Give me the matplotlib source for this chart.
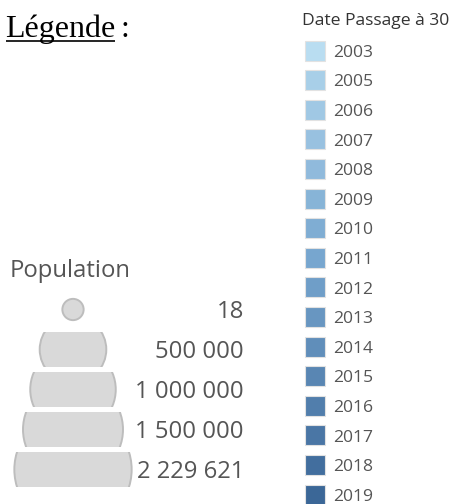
#! /usr/bin/env python3

import matplotlib
matplotlib.use('Agg')
import matplotlib.pyplot as plt
import matplotlib.patches as mpatches
from matplotlib.colors import LinearSegmentedColormap, Normalize
import numpy as np

# size legend (population)
POP_VALUES = [18, 500000, 1000000, 1500000, 2229621]
POP_LABELS = ['18', '500 000', '1 000 000', '1 500 000', '2 229 621']

# colour legend (year the population passed 30)
YEARS = [2003, 2005, 2006, 2007, 2008, 2009, 2010, 2011,
         2012, 2013, 2014, 2015, 2016, 2017, 2018, 2019]
YEAR_LABELS = [str(y) for y in YEARS]

COLOR_STOPS = ['#b9ddf1', '#77a6cf', '#3b6797']

SANS = 'Open Sans'
SERIF = 'Liberation Serif'

W, H = 456, 504


def draw_header(fig, ax):
    t = ax.text(5, 37, 'Légende', family=SERIF, fontsize=23,
                color='black', va='baseline', ha='left')
    fig.canvas.draw()
    bb = t.get_window_extent()
    (x0, _), (x1, _) = ax.transData.inverted().transform(
        [[bb.x0, bb.y0], [bb.x1, bb.y1]])
    ax.plot([x0 + 1, x1], [40.5, 40.5], color='black', lw=1.2,
            solid_capstyle='butt')
    ax.text(x1 + 5, 37, ':', family=SERIF, fontsize=23,
            color='black', va='baseline', ha='left')


def draw_size_legend(ax):
    ax.text(10, 277, 'Population', family=SANS, fontsize=17.2,
            color='#555555', va='baseline', ha='left')

    cx = 73
    row0 = 309.5
    pitch = 40
    band_h = 35
    for i, (pop, lab) in enumerate(zip(POP_VALUES, POP_LABELS)):
        cy = row0 + pitch * i
        d = 21 + 0.0645 * np.sqrt(pop)
        band = mpatches.Rectangle((cx - 80, cy - band_h / 2), 160, band_h,
                                  transform=ax.transData)
        circ = mpatches.Circle((cx, cy), d / 2, facecolor='#d9d9d9',
                               edgecolor='#bdbdbd', lw=1.4)
        ax.add_patch(circ)
        circ.set_clip_path(band)
        ax.text(244, cy + 8, lab, family=SANS, fontsize=17.2,
                color='#555555', va='baseline', ha='right')


def draw_color_legend(ax):
    ax.text(302, 25, 'Date Passage à 30', family=SANS, fontsize=12.6,
            color='#333333', va='baseline', ha='left')

    cmap = LinearSegmentedColormap.from_list('blues', COLOR_STOPS)
    norm = Normalize(vmin=min(YEARS), vmax=max(YEARS))

    row0 = 50.5
    pitch = 29.6
    sq = 20
    for i, (year, lab) in enumerate(zip(YEARS, YEAR_LABELS)):
        cy = row0 + pitch * i
        ax.add_patch(mpatches.Rectangle((305, cy - sq / 2), sq, sq,
                                        facecolor=cmap(norm(year)),
                                        edgecolor='#e2e2e2', lw=0.8))
        ax.text(333, cy + 6.2, lab, family=SANS, fontsize=12.6,
                color='#555555', va='baseline', ha='left')


def main():
    fig = plt.figure(figsize=(W / 100, H / 100), dpi=100)
    ax = fig.add_axes([0, 0, 1, 1])
    ax.set_xlim(0, W)
    ax.set_ylim(H, 0)
    ax.axis('off')

    draw_header(fig, ax)
    draw_size_legend(ax)
    draw_color_legend(ax)

    fig.savefig('out.png', dpi=100, facecolor='white')
    plt.close(fig)


if __name__ == '__main__':
    main()
